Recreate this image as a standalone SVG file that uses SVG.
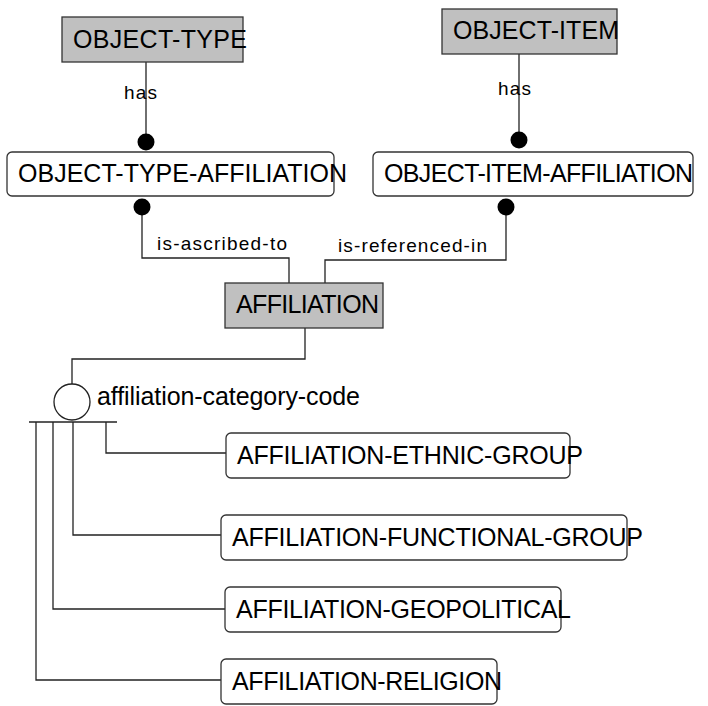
<svg xmlns="http://www.w3.org/2000/svg" width="708" height="706" viewBox="0 0 708 706">
<style>
text{font-family:"Liberation Sans",Arial,sans-serif;fill:#000}
.t{font-size:25px}
.l{font-size:19px}
.ent{fill:#fff;stroke:#333;stroke-width:1.3}
.ind{fill:#c0c0c0;stroke:#333;stroke-width:1.3}
.c{fill:none;stroke:#222;stroke-width:1.3}
.dot{fill:#000}
</style>
<rect width="708" height="706" fill="#fff"/>
<g id="connectors">
<path class="c" d="M146 62V142"/>
<circle class="dot" cx="146" cy="142" r="8.5"/>
<text class="l" x="124" y="99" textLength="33">has</text>
<path class="c" d="M519 54V140"/>
<circle class="dot" cx="519" cy="140" r="8.5"/>
<text class="l" x="498" y="95" textLength="33">has</text>
<path class="c" d="M142 207V258H289V283"/>
<circle class="dot" cx="142" cy="207" r="8.5"/>
<text class="l" x="157" y="250" textLength="130">is-ascribed-to</text>
<path class="c" d="M506 207V260H325V283"/>
<circle class="dot" cx="506" cy="207" r="8.5"/>
<text class="l" x="338" y="252" textLength="149">is-referenced-in</text>
<path class="c" d="M305 328V359H72V384"/>
<circle cx="72" cy="402" r="18" fill="#fff" stroke="#222" stroke-width="1.3"/>
<path class="c" d="M29 422H117"/>
<text class="t" x="97" y="405" textLength="263">affiliation-category-code</text>
<path class="c" d="M106 422V453H226"/>
<path class="c" d="M73 422V535H221"/>
<path class="c" d="M53 422V609H225"/>
<path class="c" d="M36 422V680H221"/>
</g>
<g id="object-type">
<rect class="ind" x="62" y="17" width="181" height="45"/>
<text class="t" x="73" y="48" textLength="174">OBJECT-TYPE</text>
</g>
<g id="object-item">
<rect class="ind" x="442" y="9" width="175" height="45"/>
<text class="t" x="453" y="39" textLength="166">OBJECT-ITEM</text>
</g>
<g id="object-type-affiliation">
<rect class="ent" x="7" y="152" width="327" height="44" rx="5"/>
<text class="t" x="18" y="182" textLength="329">OBJECT-TYPE-AFFILIATION</text>
</g>
<g id="object-item-affiliation">
<rect class="ent" x="373" y="152" width="320" height="44" rx="5"/>
<text class="t" x="384" y="182" textLength="309">OBJECT-ITEM-AFFILIATION</text>
</g>
<g id="affiliation">
<rect class="ind" x="225" y="283" width="158" height="45"/>
<text class="t" x="236" y="313" textLength="143">AFFILIATION</text>
</g>
<g id="affiliation-ethnic-group">
<rect class="ent" x="226" y="433" width="344" height="45" rx="5"/>
<text class="t" x="237" y="464" textLength="346">AFFILIATION-ETHNIC-GROUP</text>
</g>
<g id="affiliation-functional-group">
<rect class="ent" x="221" y="515" width="406" height="45" rx="5"/>
<text class="t" x="232" y="546" textLength="411">AFFILIATION-FUNCTIONAL-GROUP</text>
</g>
<g id="affiliation-geopolitical">
<rect class="ent" x="225" y="587" width="336" height="45" rx="5"/>
<text class="t" x="236" y="618" textLength="335">AFFILIATION-GEOPOLITICAL</text>
</g>
<g id="affiliation-religion">
<rect class="ent" x="221" y="659" width="276" height="45" rx="5"/>
<text class="t" x="232" y="690" textLength="270">AFFILIATION-RELIGION</text>
</g>
</svg>
